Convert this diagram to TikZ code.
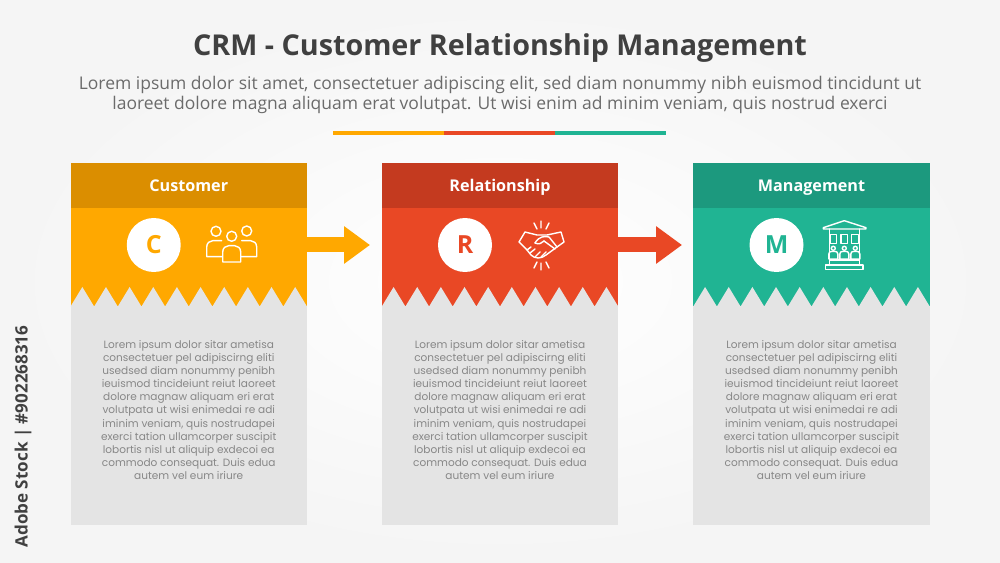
\documentclass[tikz,border=0pt]{standalone}
\usepackage{fontspec}
\setmainfont{Open Sans}
\newfontfamily\poppinsfont{Poppins}
\usetikzlibrary{arrows.meta}
\definecolor{custcolor}{HTML}{FFA800}
\definecolor{custdark}{HTML}{DB8E00}
\definecolor{relcolor}{HTML}{E94825}
\definecolor{reldark}{HTML}{C43A1F}
\definecolor{mgmtcolor}{HTML}{20B493}
\definecolor{mgmtdark}{HTML}{1C997E}
\definecolor{panelgray}{HTML}{E4E4E4}
\newcommand{\panellines}{Lorem ipsum dolor sitar ametisa\\consectetuer pel adipiscirng eliti\\usedsed diam nonummy penibh\\ieuismod tincideiunt reiut laoreet\\dolore magnaw aliquam eri erat\\volutpata ut wisi enimedai re adi\\iminim veniam, quis nostrudapei\\exerci tation ullamcorper suscipit\\lobortis nisl ut aliquip exdecoi ea\\commodo consequat. Duis edua\\autem vel eum iriure}
\tikzset{
  headbox/.style={minimum width=4.73cm,minimum height=0.9cm,inner sep=0pt,text=white,text height=6.6pt,text depth=0pt,font=\bfseries\fontsize{9.2}{11}\selectfont},
  bodybox/.style={minimum width=4.73cm,minimum height=1.96cm,inner sep=0pt},
  panelbox/.style={minimum width=4.73cm,minimum height=4.38cm,inner sep=0pt,fill=panelgray},
  letterdisc/.style={circle,fill=white,minimum size=1.08cm,inner sep=0pt,font=\bfseries\fontsize{14.2}{16}\selectfont},
  paneltext/.style={align=center,inner sep=0pt,text=black!47,font=\poppinsfont\fontsize{6}{7.48}\selectfont},
  flowarrow/.style={line width=0.3cm,shorten <=-0.5pt,-{Triangle[length=0.52cm,width=0.72cm]}},
  iconline/.style={draw=white,line width=0.8pt,line join=round,line cap=round},
  peopleicon/.pic={
    \draw[iconline] (-15.7,-13.7) circle[radius=5];
    \draw[iconline] (15,-14) circle[radius=5];
    \draw[iconline] (0,-8.7) circle[radius=5];
    \draw[iconline] (-9,11.7) -- (-25,11.7) -- (-25,2) .. controls (-25,-2) and (-22,-4.3) .. (-19,-4.3) -- (-10,-4.3);
    \draw[iconline] (9,11.7) -- (25,11.7) -- (25,2) .. controls (25,-2) and (22,-4.3) .. (19,-4.3) -- (10,-4.3);
    \draw[iconline,fill=custcolor] (-9,17) -- (9,17) -- (9,7) .. controls (9,3) and (6,0.7) .. (3,0.7) -- (-3,0.7) .. controls (-6,0.7) and (-9,3) .. (-9,7) -- cycle;
  },
  handicon/.pic={
    % cuffs and clasp
    \draw[iconline] (-22,-3) -- (-16,-13) -- (-4,-10) -- (6,-10) -- (20,-13) -- (23,-3) -- (16,2) -- (5,10) .. controls (0,14) and (-6,14) .. (-10,10) -- (-14,5) -- cycle;
    \draw[iconline] (-6,-2) .. controls (-2,-9) and (4,-9) .. (8,-8) -- (16,2);
    \draw[iconline] (-6,-2) .. controls (-2,0) and (1,-2) .. (3,-4);
    \draw[iconline] (-14,5) -- (-10,2) (-11,8) -- (-6,4) (-6,12) -- (-1,7) (0,12) -- (5,7) (3,-4) -- (14,4);
    % rays
    \draw[iconline] (-7,-22) -- (-4,-16) (0,-24) -- (0,-17) (8,-22) -- (5,-16);
    \draw[iconline] (-7,23) -- (-4,17) (0,25) -- (0,18) (8,23) -- (5,17);
  },
  bankicon/.pic={
    % roof and beam
    \draw[iconline] (-21,-17.3) -- (0,-24.3) -- (21.7,-17.3) -- (21.7,-16) -- (-21,-16) -- cycle;
    \draw[iconline] (-15,-16) -- (-15,15) (15,-16) -- (15,15);
    % windows
    \foreach \wx in {-14.3,-3.3,7.3}{ \draw[iconline] (\wx,-10.7) rectangle ++(6.6,9); }
    % people
    \foreach \px in {-11,0,11}{
      \draw[iconline] (\px,3.3) circle[radius=2];
      \draw[iconline] (\px-4.5,14) -- (\px-4.5,9) .. controls (\px-4.5,7) and (\px-3,6.5) .. (\px-2,6.5) -- (\px+2,6.5) .. controls (\px+3,6.5) and (\px+4.5,7) .. (\px+4.5,9) -- (\px+4.5,14) -- cycle;
    }
    % steps
    \draw[iconline] (-15,15) rectangle (15,20);
    \draw[iconline] (-18.7,20) rectangle (18.7,24.3);
  }
}
\begin{document}
\begin{tikzpicture}[x=0.02cm,y=-0.02cm]
  \useasboundingbox (0,0) rectangle (1000,563);
  \shade[inner color=white,outer color=black!4] (0,0) rectangle (1000,563);
  % headline
  \node[text=black!75,font=\bfseries\fontsize{16.35}{20}\selectfont] (title) at (500,48.5) {CRM - Customer Relationship Management};
  \node[align=center,inner sep=0pt,text=black!58,font=\fontsize{9.95}{11.4}\selectfont] (intro) at (500,95) {Lorem ipsum dolor sit amet, consectetuer adipiscing elit, sed diam nonummy nibh euismod tincidunt ut\\laoreet dolore magna aliquam erat volutpat. Ut wisi enim ad minim veniam, quis nostrud exerci};
  \fill[custcolor] (333,131) rectangle (444,135);
  \fill[relcolor] (444,131) rectangle (555,135);
  \fill[mgmtcolor] (555,131) rectangle (666,135);
  % columns
  \foreach \name/\lab/\x/\col/\dark/\letter in {cust/Customer/188.75/custcolor/custdark/C,rel/Relationship/500/relcolor/reldark/R,mgmt/Management/811.5/mgmtcolor/mgmtdark/M}{
    \node[headbox,fill=\dark] (head\name) at (\x,185.5) {\lab};
    \node[bodybox,fill=\col] (body\name) at (\x,257) {};
    \node[panelbox] (panel\name) at (\x,415.5) {};
    \foreach \k in {0,...,9}{
      \fill[panelgray] ({\x-118.25+23.65*\k},306.5) -- ++(11.825,-19.5) -- ++(11.825,19.5) -- cycle;
    }
    \node[letterdisc,text=\col] (disc\name) at (\x-35,245) {\letter};
    \node[paneltext] (text\name) at (\x,410) {\panellines};
  }
  % icons
  \pic at (231.7,245) {peopleicon};
  \pic at (541,245) {handicon};
  \pic at (844.3,245) {bankicon};
  % arrows
  \coordinate (tipcust) at (370,245);
  \coordinate (tiprel) at (682,245);
  \draw[flowarrow,custcolor] (bodycust.east |- disccust) -- (tipcust);
  \draw[flowarrow,relcolor] (bodyrel.east |- discrel) -- (tiprel);
  % stock line
  \node[rotate=90,text=black!75,font=\bfseries\fontsize{9.7}{12}\selectfont] (stock) at (23,436.5) {Adobe Stock | \#902268316};
\end{tikzpicture}
\end{document}
